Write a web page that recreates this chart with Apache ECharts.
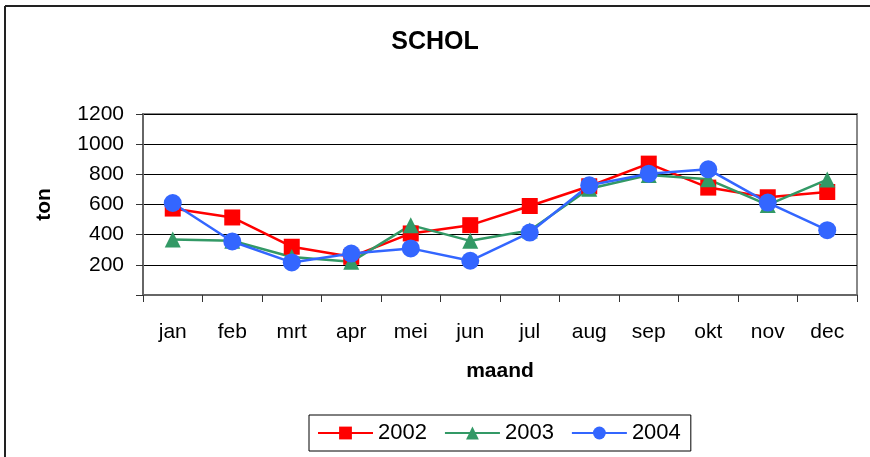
<!DOCTYPE html>
<html>
<head>
<meta charset="utf-8">
<script src="https://cdn.jsdelivr.net/npm/echarts@6/dist/echarts.min.js"></script>
<style>
  html, body { margin: 0; padding: 0; background: #fff; }
  #main { width: 870px; height: 457px; }
</style>
</head>
<body>
<div id="main"></div>
<script>
// maanden
var months = ['jan', 'feb', 'mrt', 'apr', 'mei', 'jun', 'jul', 'aug', 'sep', 'okt', 'nov', 'dec'];
// tonnen per jaar
var data2002 = [573, 514, 320, 253, 408, 463, 590, 721, 871, 712, 648, 683];
var data2003 = [368, 360, 252, 220, 463, 359, 428, 705, 795, 767, 597, 765];
var data2004 = [610, 355, 216, 275, 309, 227, 414, 727, 804, 833, 613, 430];
var yTicks = [0, 200, 400, 600, 800, 1000, 1200];

var chart = echarts.init(document.getElementById('main'), null, { renderer: 'canvas' });
var font = 'Liberation Sans, Arial, sans-serif';

var option = {
  animation: false,
  textStyle: { fontFamily: font },
  title: {
    text: 'SCHOL',
    left: 'center',
    top: 25,
    textStyle: { fontSize: 25, fontWeight: 'bold', color: '#000', fontFamily: font }
  },
  legend: {
    bottom: 6,
    left: 309,
    itemWidth: 55,
    itemHeight: 16,
    itemGap: 17,
    padding: [7, 10, 7, 8],
    borderColor: '#000',
    borderWidth: 1,
    textStyle: { fontSize: 22, color: '#000', fontFamily: font }
  },
  grid: {
    left: 143,
    right: 13,
    top: 114,
    bottom: 162,
    show: true,
    borderColor: '#888',
    borderWidth: 2
  },
  xAxis: {
    type: 'category',
    data: months,
    name: 'maand',
    nameLocation: 'middle',
    nameGap: 66,
    nameTextStyle: { fontSize: 21, fontWeight: 'bold', color: '#000', fontFamily: font },
    axisLine: { lineStyle: { color: '#666', width: 2 } },
    axisTick: { show: true, length: 7, lineStyle: { color: '#333' } },
    axisLabel: { fontSize: 21, color: '#000', margin: 27, fontFamily: font }
  },
  yAxis: {
    type: 'value',
    min: yTicks[0],
    max: yTicks[yTicks.length - 1],
    interval: 200,
    name: 'ton',
    nameLocation: 'middle',
    nameGap: 88,
    nameTextStyle: { fontSize: 21, fontWeight: 'bold', color: '#000', fontFamily: font },
    axisLine: { show: true, lineStyle: { color: '#666', width: 2 } },
    axisTick: { show: true, length: 7, lineStyle: { color: '#333' } },
    axisLabel: {
      fontSize: 21, color: '#000', margin: 19, fontFamily: font,
      formatter: function (v) { return v === 0 ? '' : v; }
    },
    splitLine: { lineStyle: { color: '#000', width: 1 } }
  },
  graphic: [
    { type: 'line', shape: { x1: 5, y1: 6, x2: 870, y2: 6 }, style: { stroke: '#222', lineWidth: 2 } },
    { type: 'line', shape: { x1: 5, y1: 6, x2: 5, y2: 457 }, style: { stroke: '#222', lineWidth: 2 } }
  ],
  series: [
    {
      name: '2002',
      type: 'line',
      data: data2002,
      symbol: 'rect',
      symbolSize: 16,
      color: '#ff0000',
      lineStyle: { color: '#ff0000', width: 2.5 },
      itemStyle: { color: '#ff0000' }
    },
    {
      name: '2003',
      type: 'line',
      data: data2003,
      symbol: 'triangle',
      symbolSize: 16,
      color: '#339966',
      lineStyle: { color: '#339966', width: 2.5 },
      itemStyle: { color: '#339966' }
    },
    {
      name: '2004',
      type: 'line',
      data: data2004,
      symbol: 'circle',
      symbolSize: 18,
      color: '#3366ff',
      lineStyle: { color: '#3366ff', width: 2.5 },
      itemStyle: { color: '#3366ff' }
    }
  ]
};

chart.setOption(option);
</script>
</body>
</html>
